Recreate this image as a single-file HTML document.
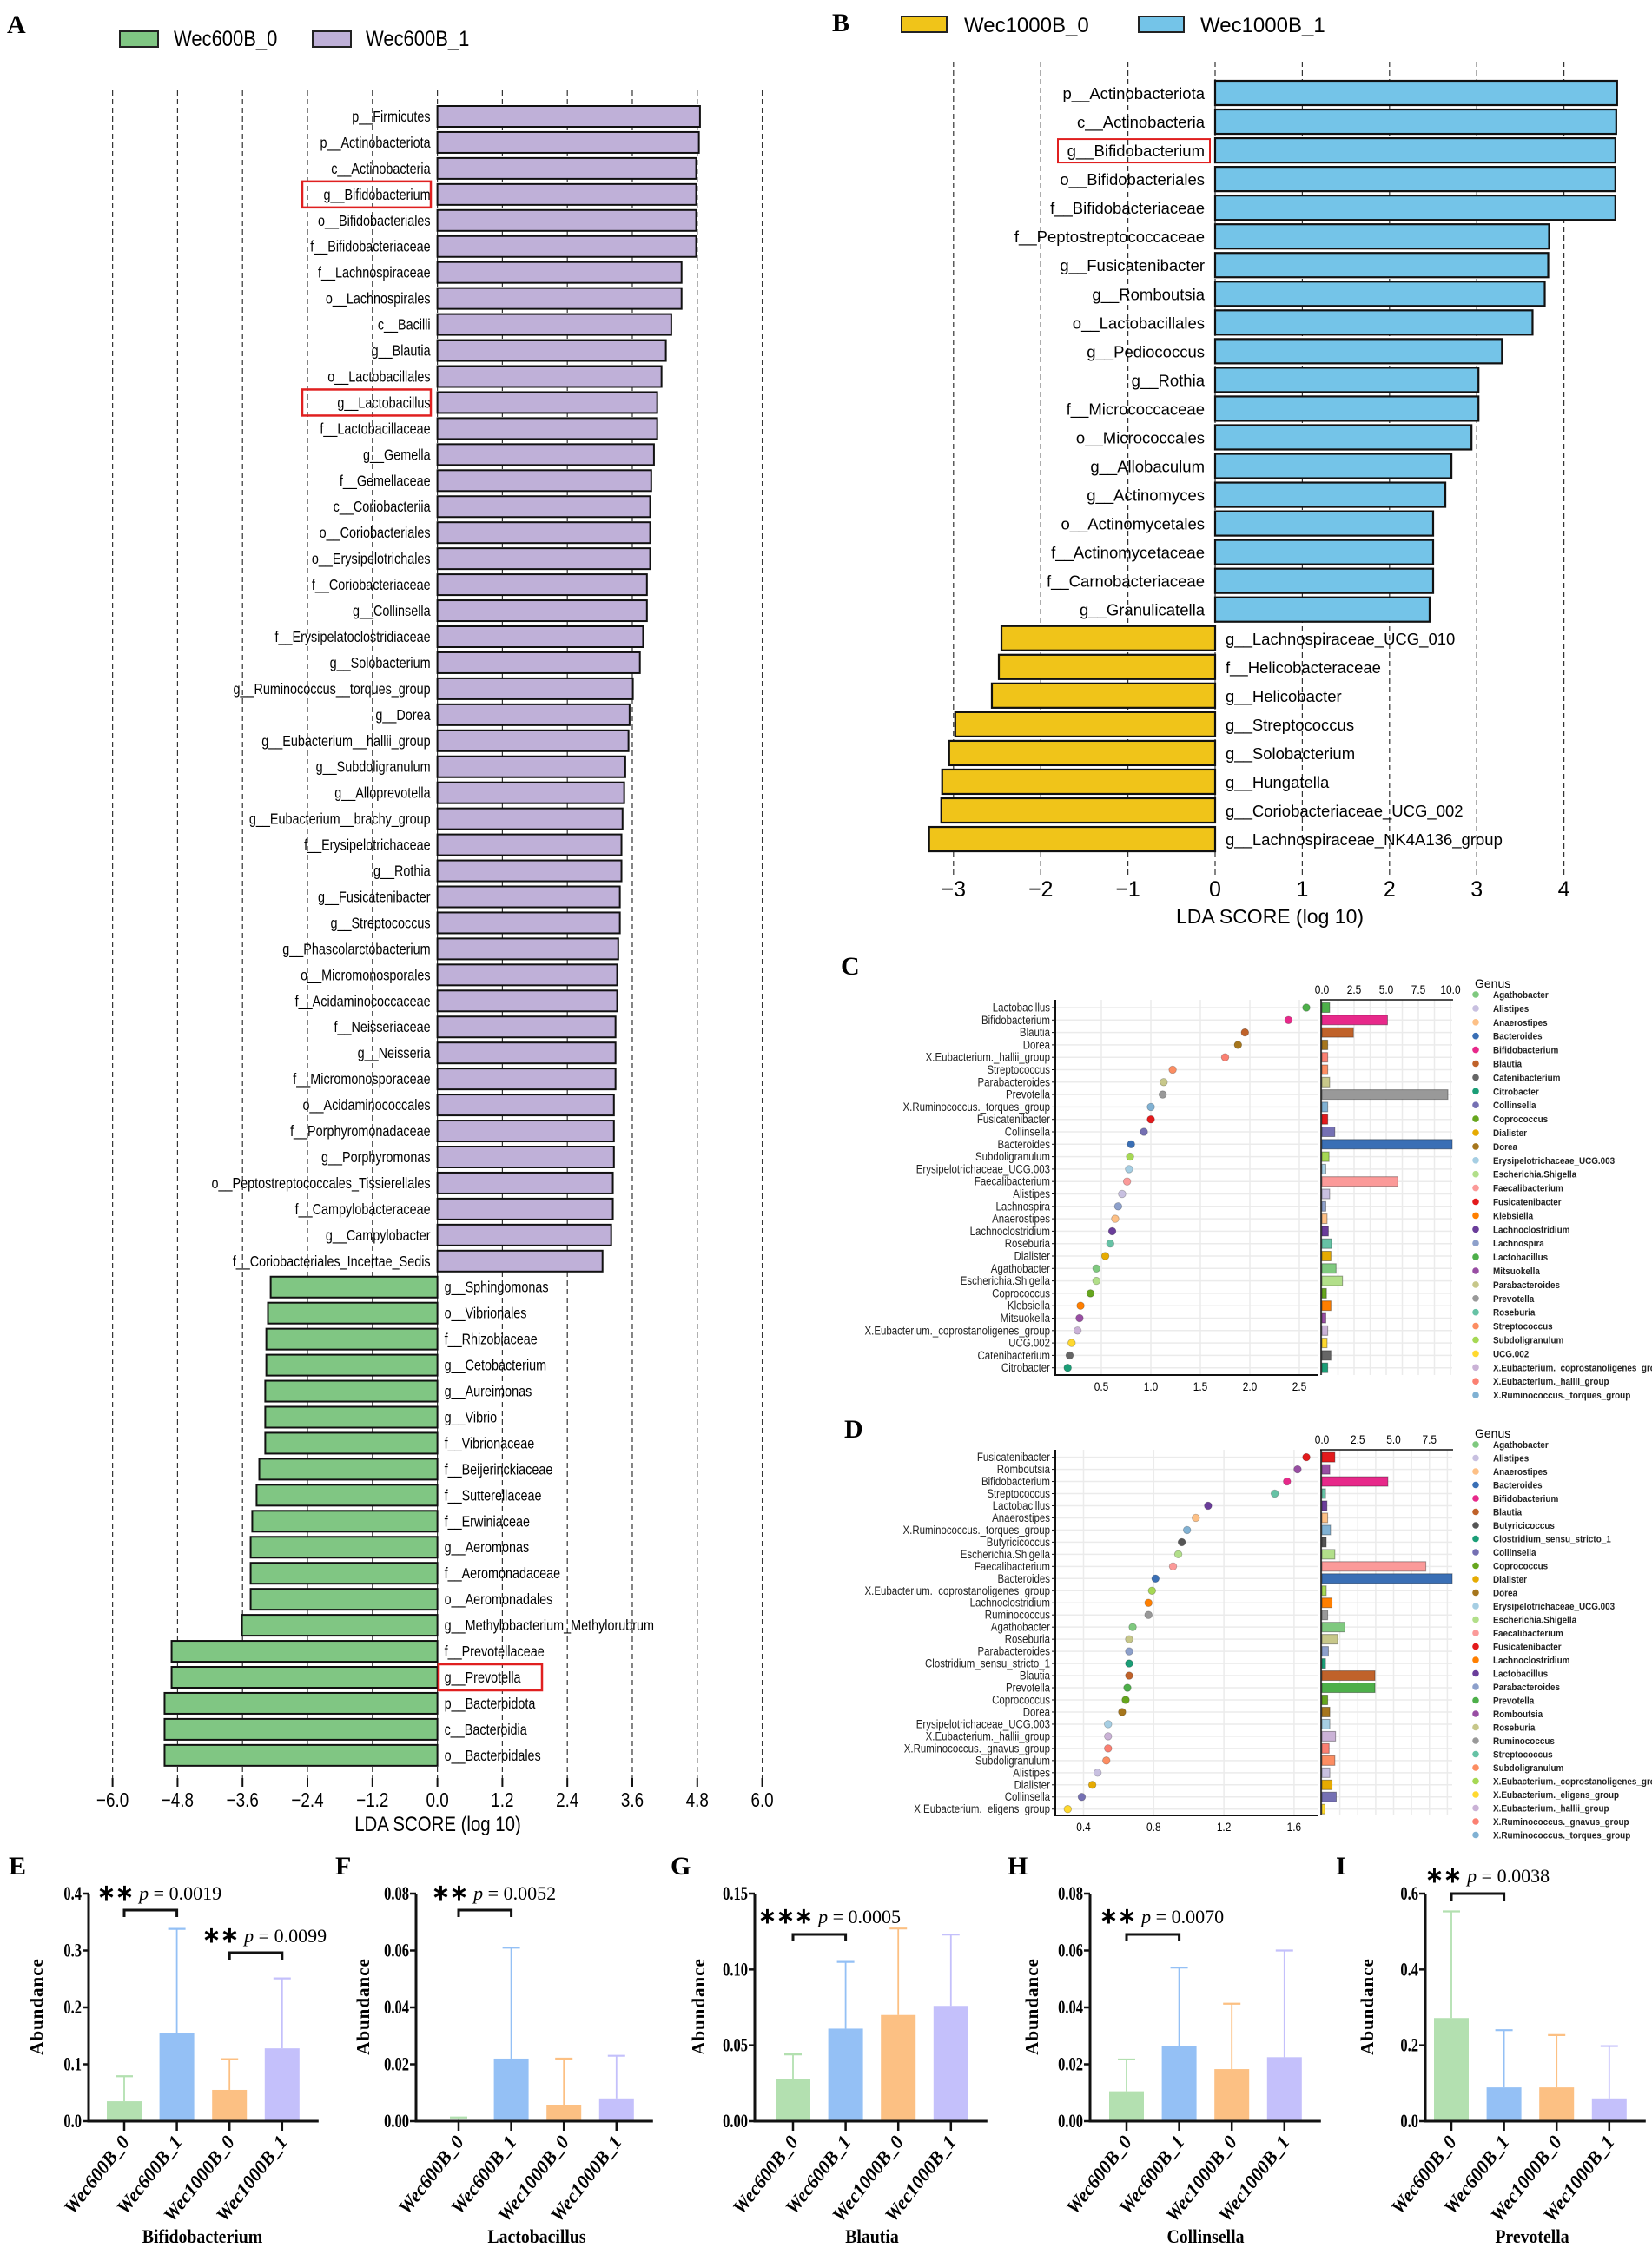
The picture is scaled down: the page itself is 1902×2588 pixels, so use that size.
<!DOCTYPE html>
<html><head><meta charset="utf-8">
<style>
html,body{margin:0;padding:0;background:#fff;}
svg{display:block;}
.nar{font-family:"Liberation Sans Narrow","Liberation Sans",sans-serif;}
.san{font-family:"Liberation Sans",sans-serif;}
.ser{font-family:"Liberation Serif",serif;}
</style></head>
<body>
<svg id="fig" xmlns="http://www.w3.org/2000/svg" width="1902" height="2588" viewBox="0 0 1902 2588"></svg>
<script>
// ---------- Panel A data ----------
const aLabels=["p__Firmicutes","p__Actinobacteriota","c__Actinobacteria","g__Bifidobacterium","o__Bifidobacteriales","f__Bifidobacteriaceae","f__Lachnospiraceae","o__Lachnospirales","c__Bacilli","g__Blautia","o__Lactobacillales","g__Lactobacillus","f__Lactobacillaceae","g__Gemella","f__Gemellaceae","c__Coriobacteriia","o__Coriobacteriales","o__Erysipelotrichales","f__Coriobacteriaceae","g__Collinsella","f__Erysipelatoclostridiaceae","g__Solobacterium","g__Ruminococcus__torques_group","g__Dorea","g__Eubacterium__hallii_group","g__Subdoligranulum","g__Alloprevotella","g__Eubacterium__brachy_group","f__Erysipelotrichaceae","g__Rothia","g__Fusicatenibacter","g__Streptococcus","g__Phascolarctobacterium","o__Micromonosporales","f__Acidaminococcaceae","f__Neisseriaceae","g__Neisseria","f__Micromonosporaceae","o__Acidaminococcales","f__Porphyromonadaceae","g__Porphyromonas","o__Peptostreptococcales_Tissierellales","f__Campylobacteraceae","g__Campylobacter","f__Coriobacteriales_Incertae_Sedis","g__Sphingomonas","o__Vibrionales","f__Rhizobiaceae","g__Cetobacterium","g__Aureimonas","g__Vibrio","f__Vibrionaceae","f__Beijerinckiaceae","f__Sutterellaceae","f__Erwiniaceae","g__Aeromonas","f__Aeromonadaceae","o__Aeromonadales","g__Methylobacterium_Methylorubrum","f__Prevotellaceae","g__Prevotella","p__Bacteroidota","c__Bacteroidia","o__Bacteroidales"];
const aValues=[4.85,4.83,4.78,4.78,4.78,4.78,4.51,4.51,4.32,4.22,4.14,4.06,4.06,4.0,3.95,3.93,3.93,3.93,3.87,3.87,3.8,3.74,3.61,3.55,3.53,3.47,3.45,3.42,3.4,3.4,3.37,3.37,3.34,3.32,3.32,3.29,3.29,3.29,3.26,3.26,3.26,3.24,3.24,3.21,3.05,-3.08,-3.13,-3.16,-3.16,-3.18,-3.18,-3.18,-3.29,-3.34,-3.42,-3.45,-3.45,-3.45,-3.61,-4.91,-4.91,-5.04,-5.04,-5.04];
const aTicks=[-6.0,-4.8,-3.6,-2.4,-1.2,0.0,1.2,2.4,3.6,4.8,6.0];
const aHighlight=["g__Bifidobacterium","g__Lactobacillus","g__Prevotella"];
// ---------- Panel B data ----------
const bLabels=["p__Actinobacteriota","c__Actinobacteria","g__Bifidobacterium","o__Bifidobacteriales","f__Bifidobacteriaceae","f__Peptostreptococcaceae","g__Fusicatenibacter","g__Romboutsia","o__Lactobacillales","g__Pediococcus","g__Rothia","f__Micrococcaceae","o__Micrococcales","g__Allobaculum","g__Actinomyces","o__Actinomycetales","f__Actinomycetaceae","f__Carnobacteriaceae","g__Granulicatella","g__Lachnospiraceae_UCG_010","f__Helicobacteraceae","g__Helicobacter","g__Streptococcus","g__Solobacterium","g__Hungatella","g__Coriobacteriaceae_UCG_002","g__Lachnospiraceae_NK4A136_group"];
const bValues=[4.61,4.6,4.59,4.59,4.59,3.83,3.82,3.78,3.64,3.29,3.02,3.02,2.94,2.71,2.64,2.5,2.5,2.5,2.46,-2.45,-2.48,-2.56,-2.98,-3.05,-3.13,-3.14,-3.28];
const bTicks=[-3,-2,-1,0,1,2,3,4];
const bHighlight=["g__Bifidobacterium"];
// ---------- Panel C data ----------
const cGenera=["Lactobacillus","Bifidobacterium","Blautia","Dorea","X.Eubacterium._hallii_group","Streptococcus","Parabacteroides","Prevotella","X.Ruminococcus._torques_group","Fusicatenibacter","Collinsella","Bacteroides","Subdoligranulum","Erysipelotrichaceae_UCG.003","Faecalibacterium","Alistipes","Lachnospira","Anaerostipes","Lachnoclostridium","Roseburia","Dialister","Agathobacter","Escherichia.Shigella","Coprococcus","Klebsiella","Mitsuokella","X.Eubacterium._coprostanoligenes_group","UCG.002","Catenibacterium","Citrobacter"];
const cDots=[2.57,2.39,1.95,1.88,1.75,1.22,1.13,1.12,1.0,1.0,0.93,0.8,0.79,0.78,0.76,0.71,0.67,0.64,0.61,0.59,0.54,0.45,0.45,0.39,0.29,0.28,0.26,0.2,0.18,0.16];
const cBars=[0.6,5.1,2.45,0.45,0.45,0.45,0.6,9.8,0.45,0.45,1.0,10.2,0.55,0.3,5.9,0.6,0.3,0.4,0.5,0.75,0.7,1.1,1.6,0.35,0.7,0.3,0.45,0.4,0.7,0.45];
const cDotTicks=[0.5,1.0,1.5,2.0,2.5];
const cBarTicks=[0.0,2.5,5.0,7.5,10.0];
const cLegend=["Agathobacter","Alistipes","Anaerostipes","Bacteroides","Bifidobacterium","Blautia","Catenibacterium","Citrobacter","Collinsella","Coprococcus","Dialister","Dorea","Erysipelotrichaceae_UCG.003","Escherichia.Shigella","Faecalibacterium","Fusicatenibacter","Klebsiella","Lachnoclostridium","Lachnospira","Lactobacillus","Mitsuokella","Parabacteroides","Prevotella","Roseburia","Streptococcus","Subdoligranulum","UCG.002","X.Eubacterium._coprostanoligenes_group","X.Eubacterium._hallii_group","X.Ruminococcus._torques_group"];
const cColors=["#7fc97f","#c8c0e0","#fdc086","#3a6fb5","#e7298a","#c0622a","#666666","#1b9e77","#7570b3","#66a61e","#e6ab02","#a6761d","#a6cee3","#b2df8a","#fb9a99","#e31a1c","#ff7f00","#6a3d9a","#8da0cb","#4daf4a","#984ea3","#c7c78a","#999999","#66c2a5","#fc8d62","#a6d854","#ffd92f","#cab2d6","#fb8072","#80b1d3"];
// ---------- Panel D data ----------
const dGenera=["Fusicatenibacter","Romboutsia","Bifidobacterium","Streptococcus","Lactobacillus","Anaerostipes","X.Ruminococcus._torques_group","Butyricicoccus","Escherichia.Shigella","Faecalibacterium","Bacteroides","X.Eubacterium._coprostanoligenes_group","Lachnoclostridium","Ruminococcus","Agathobacter","Roseburia","Parabacteroides","Clostridium_sensu_stricto_1","Blautia","Prevotella","Coprococcus","Dorea","Erysipelotrichaceae_UCG.003","X.Eubacterium._hallii_group","X.Ruminococcus._gnavus_group","Subdoligranulum","Alistipes","Dialister","Collinsella","X.Eubacterium._eligens_group"];
const dDots=[1.67,1.62,1.56,1.49,1.11,1.04,0.99,0.96,0.94,0.91,0.81,0.79,0.77,0.77,0.68,0.66,0.66,0.66,0.66,0.65,0.64,0.62,0.54,0.54,0.54,0.53,0.48,0.45,0.39,0.31];
const dBars=[0.9,0.55,4.6,0.25,0.35,0.4,0.6,0.3,0.9,7.25,9.3,0.3,0.7,0.4,1.6,1.1,0.45,0.25,3.7,3.7,0.4,0.55,0.55,0.95,0.5,0.9,0.55,0.7,1.0,0.2];
const dDotTicks=[0.4,0.8,1.2,1.6];
const dBarTicks=[0.0,2.5,5.0,7.5];
const dLegend=["Agathobacter","Alistipes","Anaerostipes","Bacteroides","Bifidobacterium","Blautia","Butyricicoccus","Clostridium_sensu_stricto_1","Collinsella","Coprococcus","Dialister","Dorea","Erysipelotrichaceae_UCG.003","Escherichia.Shigella","Faecalibacterium","Fusicatenibacter","Lachnoclostridium","Lactobacillus","Parabacteroides","Prevotella","Romboutsia","Roseburia","Ruminococcus","Streptococcus","Subdoligranulum","X.Eubacterium._coprostanoligenes_group","X.Eubacterium._eligens_group","X.Eubacterium._hallii_group","X.Ruminococcus._gnavus_group","X.Ruminococcus._torques_group"];
const dColors=["#7fc97f","#c8c0e0","#fdc086","#3a6fb5","#e7298a","#c0622a","#555555","#1b9e77","#7570b3","#66a61e","#e6ab02","#a6761d","#a6cee3","#b2df8a","#fb9a99","#e31a1c","#ff7f00","#6a3d9a","#8da0cb","#4daf4a","#984ea3","#c7c78a","#999999","#66c2a5","#fc8d62","#a6d854","#ffd92f","#cab2d6","#fb8072","#80b1d3"];
// ---------- Panels E-I data ----------
const groups=["Wec600B_0","Wec600B_1","Wec1000B_0","Wec1000B_1"];
const groupColors=["#b3e0b0","#94c0f5","#fcc083","#c4c0fb"];
const eMeans=[0.035,0.155,0.055,0.128], eErr=[0.079,0.338,0.109,0.251], eTicks=["0.0","0.1","0.2","0.3","0.4"];
const fMeans=[0.0003,0.022,0.0058,0.008], fErr=[0.0013,0.061,0.022,0.023], fTicks=["0.00","0.02","0.04","0.06","0.08"];
const gMeans=[0.028,0.061,0.070,0.076], gErr=[0.044,0.105,0.127,0.123], gTicks=["0.00","0.05","0.10","0.15"];
const hMeans=[0.0105,0.0265,0.0183,0.0225], hErr=[0.0217,0.054,0.0413,0.060], hTicks=["0.00","0.02","0.04","0.06","0.08"];
const iMeans=[0.272,0.089,0.089,0.060], iErr=[0.553,0.24,0.227,0.198], iTicks=["0.0","0.2","0.4","0.6"];

const NS="http://www.w3.org/2000/svg";
const svg=document.getElementById('fig');
function mk(tag,attrs,parent){const e=document.createElementNS(NS,tag);for(const k in attrs)e.setAttribute(k,attrs[k]);(parent||svg).appendChild(e);return e;}
function txt(s,attrs,parent){const e=mk('text',attrs,parent);e.textContent=s;return e;}
function sq(x,f){return `translate(${x},0) scale(${f},1) translate(${-x},0)`;}
function fmtMinus(v,d){const s=Math.abs(v).toFixed(d);return (v<0?"\u2212":"")+s;}

// ===== Panel letters =====
const letters=[["A",8,38],["B",958,36],["C",968,1122],["D",972,1655],["E",10,2158],["F",386,2158],["G",772,2158],["H",1160,2158],["I",1538,2158]];
letters.forEach(l=>{const t=txt(l[0],{x:l[1],y:l[2],class:"ser","font-size":30,"font-weight":"bold"});

});

// ===== Panel A =====
(function(){
const g=mk('g',{});


const x=v=>503.6+v*62.33, y=i=>134+i*29.95;
const l1=mk('rect',{x:138,y:36,width:44,height:18,fill:"#80c683",stroke:"#222","stroke-width":2},g);


const lt1=txt("Wec600B_0",{x:200,y:53,class:"nar","font-size":25,transform:sq(200,0.88)},g);


const l2=mk('rect',{x:360,y:36,width:44,height:18,fill:"#bfb0d8",stroke:"#222","stroke-width":2},g);


const lt2=txt("Wec600B_1",{x:421,y:53,class:"nar","font-size":25,transform:sq(421,0.88)},g);


aTicks.forEach(t=>{
 const gl=mk('line',{x1:x(t),x2:x(t),y1:104,y2:2048,stroke:"#333","stroke-width":1.2,"stroke-dasharray":"6,4"},g);
 
 
 const tk=mk('line',{x1:x(t),x2:x(t),y1:2047,y2:2057,stroke:"#111","stroke-width":2},g);
 
 
 const tl=txt(fmtMinus(t,1),{x:x(t),y:2080,"text-anchor":"middle",class:"nar","font-size":23,transform:sq(x(t),0.82)},g);
 
 
});
const at=txt("LDA SCORE (log 10)",{x:504,y:2108,"text-anchor":"middle",class:"nar","font-size":24,transform:sq(504,0.85)},g);


aValues.forEach((v,i)=>{
 const x0=Math.min(x(0),x(v)), w=Math.abs(x(v)-x(0));
 const r=mk('rect',{x:x0,y:y(i)-12,width:w,height:24,fill:v>0?"#bfb0d8":"#80c683",stroke:"#111","stroke-width":2},g);
 
 
 const pos=v>0;
 const lx=pos?x(0)-8:x(0)+8;
 const t=txt(aLabels[i],{x:lx,y:y(i)+6,"text-anchor":pos?"end":"start",class:"nar","font-size":18,transform:sq(lx,0.8)},g);
 
 
 if(aHighlight.includes(aLabels[i])){
  const bx=pos?mk('rect',{x:348,y:y(i)-15,width:148,height:30,fill:"none",stroke:"#e02020","stroke-width":2.5},g):mk('rect',{x:505,y:y(i)-15,width:119,height:30,fill:"none",stroke:"#e02020","stroke-width":2.5},g);
  
  
 }
});
})();

// ===== Panel B =====
(function(){
const g=mk('g',{});


const x=v=>1399+v*100.4, y=i=>107+i*33.04;
const l1=mk('rect',{x:1038,y:19,width:52,height:18,fill:"#f0c419",stroke:"#222","stroke-width":2},g);


const lt1=txt("Wec1000B_0",{x:1110,y:37,class:"san","font-size":24},g);


const l2=mk('rect',{x:1311,y:19,width:52,height:18,fill:"#74c4e8",stroke:"#222","stroke-width":2},g);


const lt2=txt("Wec1000B_1",{x:1382,y:37,class:"san","font-size":24},g);


bTicks.forEach(t=>{
 const gl=mk('line',{x1:x(t),x2:x(t),y1:71,y2:1009,stroke:"#333","stroke-width":1.2,"stroke-dasharray":"6,4"},g);
 
 
 const tl=txt((t<0?"\u2212":"")+Math.abs(t),{x:x(t),y:1032,"text-anchor":"middle",class:"san","font-size":25},g);
 
 
});
const at=txt("LDA SCORE (log 10)",{x:1462,y:1063,"text-anchor":"middle",class:"san","font-size":23},g);


bValues.forEach((v,i)=>{
 const x0=Math.min(x(0),x(v)), w=Math.abs(x(v)-x(0));
 const r=mk('rect',{x:x0,y:y(i)-14,width:w,height:28,fill:v>0?"#74c4e8":"#f0c419",stroke:"#111","stroke-width":2.2},g);
 
 
 const pos=v>0;
 const t=txt(bLabels[i],{x:pos?x(0)-12:x(0)+12,y:y(i)+7,"text-anchor":pos?"end":"start",class:"san","font-size":18.5},g);
 
 
 if(bHighlight.includes(bLabels[i])){
  const bx=mk('rect',{x:1218,y:y(i)-13,width:175,height:27,fill:"none",stroke:"#e02020","stroke-width":2},g);
  
  
 }
});
})();

// ===== Panels C & D =====
function dotBar(cfg){
 const g=mk('g',{});
 
 
 const xd=cfg.xd, xb=v=>1522+cfg.bs*v, y=i=>cfg.y0+i*cfg.dy;
 const top=cfg.top, bot=cfg.bot;
 for(let i=0;i<cfg.genera.length;i++){
  const hl=mk('line',{x1:1215,x2:1518,y1:y(i),y2:y(i),stroke:"#ebebeb","stroke-width":1.5},g);
  
  
  const hb=mk('line',{x1:1522,x2:1672,y1:y(i),y2:y(i),stroke:"#ebebeb","stroke-width":1.5},g);
  
  
 }
 cfg.dotTicks.forEach(t=>{
  const vl=mk('line',{x1:xd(t),x2:xd(t),y1:top,y2:bot,stroke:"#ebebeb","stroke-width":1.5},g);
  
  
  const tl=txt(t.toFixed(1),{x:xd(t),y:bot+18,"text-anchor":"middle",class:"nar","font-size":14,transform:sq(xd(t),0.85)},g);
  
  
 });
 for(let v=0;1522+cfg.bs*v<=1673;v+=1.25){
  const vl=mk('line',{x1:xb(v),x2:xb(v),y1:top,y2:bot,stroke:"#ebebeb","stroke-width":1.5},g);
  
  
 }
 cfg.barTicks.forEach(t=>{
  const tl=txt(t.toFixed(1),{x:xb(t),y:top-7,"text-anchor":"middle",class:"nar","font-size":14,transform:sq(xb(t),0.85)},g);
  
  
 });
 const ax1=mk('polyline',{points:`1215,${top} 1215,${bot} 1518,${bot}`,fill:"none",stroke:"#111","stroke-width":2},g);
 
 
 const ax2=mk('line',{x1:1520,x2:1673,y1:top,y2:top,stroke:"#111","stroke-width":1.5},g);
 
 
 const ax3=mk('line',{x1:1521,x2:1521,y1:top,y2:bot,stroke:"#111","stroke-width":1.5},g);
 
 
 cfg.genera.forEach((n,i)=>{
  const col=cfg.colors[cfg.legend.indexOf(n)];
  const t=txt(n,{x:1209,y:y(i)+4.5,"text-anchor":"end",class:"nar","font-size":13.5,fill:"#222",transform:sq(1209,0.85)},g);
  
  
  const tk=mk('line',{x1:1211,x2:1215,y1:y(i),y2:y(i),stroke:"#111","stroke-width":1},g);
  
  
  const c=mk('circle',{cx:xd(cfg.dots[i]),cy:y(i),r:4.3,fill:col,stroke:"rgba(0,0,0,0.25)","stroke-width":0.8},g);
  
  
  const w=Math.min(xb(cfg.bars[i]),1672)-1522;
  const r=mk('rect',{x:1522,y:y(i)-5.5,width:w,height:11,fill:col,stroke:"rgba(0,0,0,0.35)","stroke-width":1},g);
  
  
 });
 const gt=txt("Genus",{x:1698,y:cfg.ly-8,class:"nar","font-size":14},g);
 
 
 cfg.legend.forEach((n,i)=>{
  const ly=cfg.ly+i*cfg.ldy;
  const c=mk('circle',{cx:1699,cy:ly,r:3.8,fill:cfg.colors[i]},g);
  
  
  const t=txt(n,{x:1719,y:ly+4,class:"nar","font-size":11,"font-weight":"bold",fill:"#222",transform:sq(1719,0.9)},g);
  
  
 });
}
dotBar({name:"panel-c-genus-chart",genera:cGenera,dots:cDots,bars:cBars,dotTicks:cDotTicks,barTicks:cBarTicks,legend:cLegend,colors:cColors,
 xd:v=>1211+114*v,bs:14.8,y0:1160,dy:14.3,top:1151,bot:1583,ly:1145,ldy:15.9});
dotBar({name:"panel-d-genus-chart",genera:dGenera,dots:dDots,bars:dBars,dotTicks:dDotTicks,barTicks:dBarTicks,legend:dLegend,colors:dColors,
 xd:v=>1166.7+202*v,bs:16.5,y0:1677.6,dy:13.97,top:1669,bot:2090,ly:1663,ldy:15.5});

// ===== Panels E-I =====
const barPanels=[
 {id:"e",ax:102,off:41,means:eMeans,err:eErr,ticks:eTicks,title:"Bifidobacterium",tx:233,ylx:42,
  sig:[{a:0,b:1,s:"**",p:"0.0019",tx:112,ty:2187,by:2199}, {a:2,b:3,s:"**",p:"0.0099",tx:233,ty:2236,by:2248}]},
 {id:"f",ax:479,off:49,means:fMeans,err:fErr,ticks:fTicks,title:"Lactobacillus",tx:618,ylx:418,
  sig:[{a:0,b:1,s:"**",p:"0.0052",tx:497,ty:2187,by:2199}]},
 {id:"g",ax:869,off:44,means:gMeans,err:gErr,ticks:gTicks,title:"Blautia",tx:1004,ylx:804,
  sig:[{a:0,b:1,s:"***",p:"0.0005",tx:873,ty:2214,by:2227}]},
 {id:"h",ax:1255,off:42,means:hMeans,err:hErr,ticks:hTicks,title:"Collinsella",tx:1388,ylx:1188,
  sig:[{a:0,b:1,s:"**",p:"0.0070",tx:1266,ty:2214,by:2227}]},
 {id:"i",ax:1641,off:30,means:iMeans,err:iErr,ticks:iTicks,title:"Prevotella",tx:1764,ylx:1574,
  sig:[{a:0,b:1,s:"**",p:"0.0038",tx:1641,ty:2167,by:2180}]}
];
barPanels.forEach(P=>{
 const g=mk('g',{});
 
 
 const max=parseFloat(P.ticks[P.ticks.length-1]);
 const y=v=>2442-v/max*262;
 const cx=i=>P.ax+P.off+i*60.6;
 const right=cx(3)+42;
 P.ticks.forEach(t=>{
  const v=parseFloat(t);
  const tk=mk('line',{x1:P.ax-7,x2:P.ax,y1:y(v),y2:y(v),stroke:"#111","stroke-width":2.5},g);
  
  
  const tl=txt(t,{x:P.ax-8,y:y(v)+7,"text-anchor":"end",class:"ser","font-size":22,"font-weight":"bold",transform:sq(P.ax-8,0.75)},g);
  
  
 });
 P.means.forEach((m,i)=>{
  const col=groupColors[i];
  const eb=mk('line',{x1:cx(i),x2:cx(i),y1:y(m),y2:y(P.err[i]),stroke:col,"stroke-width":1.8},g);
  
  
  const cap=mk('line',{x1:cx(i)-10,x2:cx(i)+10,y1:y(P.err[i]),y2:y(P.err[i]),stroke:col,"stroke-width":2.2},g);
  
  
  const r=mk('rect',{x:cx(i)-20,y:y(m),width:40,height:y(0)-y(m),fill:col},g);
  
  
  const tk=mk('line',{x1:cx(i),x2:cx(i),y1:2442,y2:2453,stroke:"#111","stroke-width":2.5},g);
  
  
  const tl=txt(groups[i],{x:0,y:0,"text-anchor":"end",class:"ser","font-size":22,"font-weight":"bold","font-style":"italic",transform:`translate(${cx(i)+7},2466) rotate(-52)`},g);
  
  
 });
 const axes=mk('polyline',{points:`${P.ax},${y(max)} ${P.ax},2442 ${right},2442`,fill:"none",stroke:"#111","stroke-width":3},g);
 
 
 const yl=txt("Abundance",{x:0,y:0,"text-anchor":"middle",class:"ser","font-size":21,"font-weight":"bold","letter-spacing":"1",transform:`translate(${P.ylx+7},2310) rotate(-90)`},g);
 
 
 const tt=txt(P.title,{x:P.tx,y:2582,"text-anchor":"middle",class:"ser","font-size":22,"font-weight":"bold",transform:sq(P.tx,0.9)},g);
 
 
 P.sig.forEach(s=>{
  const br=mk('polyline',{points:`${cx(s.a)},${s.by+8} ${cx(s.a)},${s.by} ${cx(s.b)},${s.by} ${cx(s.b)},${s.by+8}`,fill:"none",stroke:"#111","stroke-width":3},g);
  
  
  const st=mk('text',{x:s.tx,y:s.ty,class:"ser","font-size":22},g);
  
  
  const a=document.createElementNS(NS,'tspan');a.setAttribute('font-weight','bold');a.setAttribute('font-size','25');a.textContent=s.s.replace(/\*/g,'\u2217')+" ";st.appendChild(a);
  const b=document.createElementNS(NS,'tspan');b.setAttribute('font-style','italic');b.textContent="p";st.appendChild(b);
  const c=document.createElementNS(NS,'tspan');c.textContent=" = "+s.p;st.appendChild(c);
 });
});
</script>
</body></html>
